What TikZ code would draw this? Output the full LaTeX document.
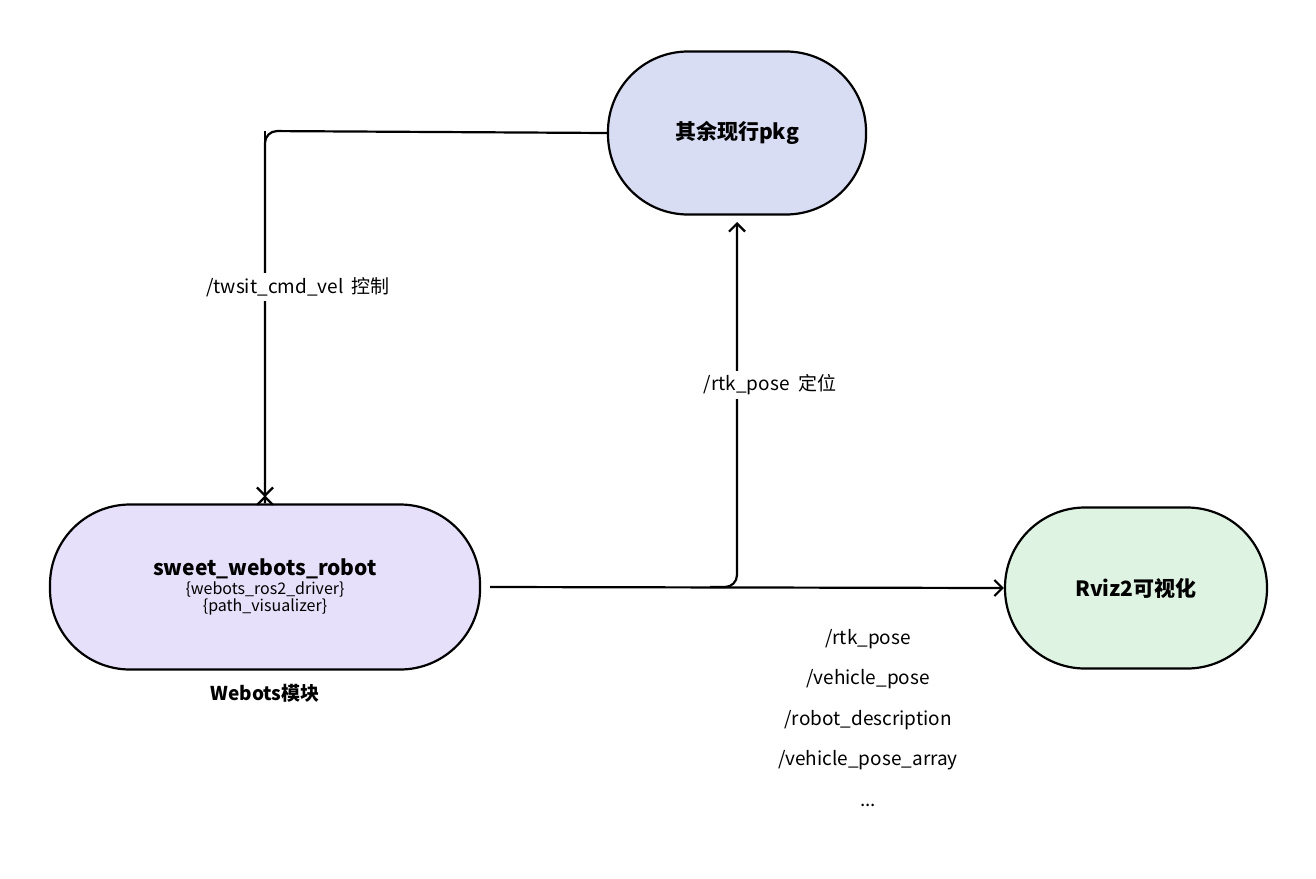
\documentclass[tikz,border=0pt]{standalone}
\usepackage{fontspec}
\setmainfont{Noto Sans CJK SC}
\usetikzlibrary{arrows.meta}
\definecolor{cTop}{HTML}{D9DDF3}
\definecolor{cLeft}{HTML}{E7E0FA}
\definecolor{cRight}{HTML}{DFF3E2}
\begin{document}
\begin{tikzpicture}[x=1pt,y=-1pt,
  stad/.style={draw=black,line width=2.2pt,rounded corners=80pt,minimum width=#1,align=center,inner sep=0pt},
  conn/.style={line width=2.2pt,rounded corners=12pt,-{Straight Barb[length=8pt,width=16pt,line width=2.2pt]}},
  lbl/.style={fill=white,font=\fontsize{19}{22}\selectfont,inner sep=4pt}]
\useasboundingbox (0,0) rectangle (1316,878);
\node[stad=258pt,minimum height=163pt,fill=cTop,font=\bfseries\fontsize{21}{24}\selectfont] (top) at (737,133) {其余现行pkg};
\node[stad=430pt,minimum height=165pt,fill=cLeft] (left) at (265,587) {{\bfseries\fontsize{21}{26}\selectfont sweet\_webots\_robot}\\[2pt]{\fontsize{16}{22}\selectfont \{webots\_ros2\_driver\}}\\{\fontsize{16}{22}\selectfont \{path\_visualizer\}}};
\node[stad=262pt,minimum height=161pt,fill=cRight,font=\bfseries\fontsize{21}{24}\selectfont] (right) at (1136,588) {Rviz2可视化};
\node[font=\bfseries\fontsize{19}{22}\selectfont] (wm) at (265,693) {Webots模块};
\coordinate (c1) at (265,131);
\coordinate (j) at (737,587);
\draw[conn] (top.west) -- (c1) -- (left.north) ++(0,-8) coordinate (la);
\draw[conn] (c1) ++(0,0) -- (265,497);
\draw[conn] (490,587) -- (right.west);
\draw[conn] (710,587) -| (737,222);
\node[lbl] (l1) at (298,287) {/twsit\_cmd\_vel\ \ 控制};
\node[lbl] (l2) at (770,385) {/rtk\_pose\ \ 定位};
\node[align=center,font=\fontsize{19}{40.5}\selectfont] (topics) at (868,718) {/rtk\_pose\\/vehicle\_pose\\/robot\_description\\/vehicle\_pose\_array\\...};
\end{tikzpicture}
\end{document}
